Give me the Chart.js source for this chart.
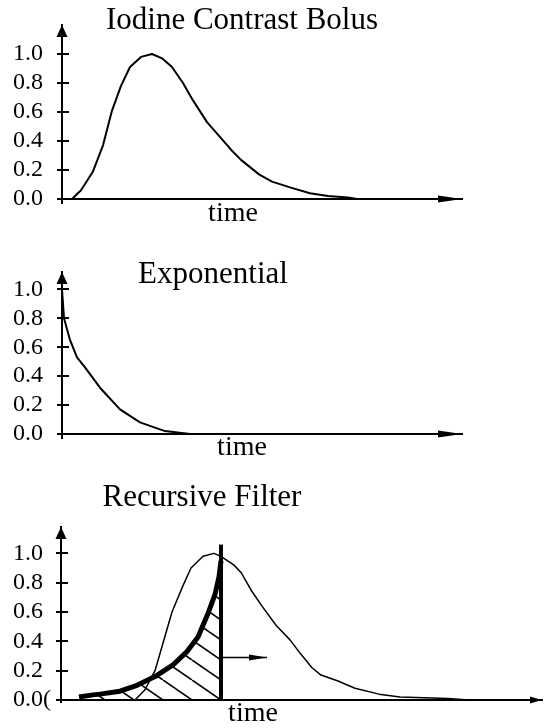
<!DOCTYPE html>
<html>
<head>
<meta charset="utf-8">
<script src="https://cdn.jsdelivr.net/npm/chart.js@4.4.0/dist/chart.umd.min.js"></script>
<style>
  body { margin: 0; background: #fff; width: 544px; height: 728px; position: relative; overflow: hidden; }
  canvas { position: absolute; left: 0; }
</style>
</head>
<body>
<canvas id="bolus" width="544" height="240" style="top:0"></canvas>
<canvas id="expo" width="544" height="230" style="top:240px"></canvas>
<canvas id="filter" width="544" height="258" style="top:470px"></canvas>
<script>
// values (time in arbitrary units)
const yTicks = [0, 0.2, 0.4, 0.6, 0.8, 1.0];

const bolusTime  = [1.0, 1.9, 3.1, 4.1, 5.0, 5.9, 6.8, 7.9, 9.0, 10.0, 11.0, 12.1, 13.1, 14.5, 15.9, 16.9, 17.9, 19.7, 21.0, 22.8, 24.8, 26.6, 28.6, 29.5];
const bolusValue = [0, 0.06, 0.19, 0.37, 0.61, 0.78, 0.91, 0.98, 1.0, 0.97, 0.91, 0.80, 0.68, 0.53, 0.42, 0.34, 0.27, 0.17, 0.12, 0.08, 0.04, 0.02, 0.01, 0];

const expTime  = [0, 0.2, 0.8, 1.5, 2.3, 3.8, 5.8, 7.8, 10.3, 12.8];
const expValue = [1.0, 0.8, 0.65, 0.53, 0.46, 0.32, 0.17, 0.08, 0.02, 0];

const shiftedTime  = [7.4, 8.4, 9.4, 11.1, 12.2, 13.0, 14.2, 15.3, 16.0, 17.3, 18.0, 19.1, 20.1, 21.5, 22.9, 23.9, 25.1, 26.0, 27.7, 29.4, 31.8, 33.9, 38.7, 40.8];
const shiftedValue = [0, 0.07, 0.2, 0.6, 0.78, 0.9, 0.98, 1.0, 0.98, 0.92, 0.87, 0.74, 0.64, 0.51, 0.41, 0.32, 0.22, 0.17, 0.13, 0.08, 0.04, 0.02, 0.01, 0];

const filterTime  = [1.8, 3.2, 3.9, 5.9, 7.6, 9.4, 11.2, 12.6, 13.7, 14.7, 15.4, 15.8, 16.0];
const filterValue = [0.02, 0.035, 0.04, 0.06, 0.10, 0.16, 0.24, 0.33, 0.43, 0.59, 0.72, 0.84, 0.95];

const cursorTime  = [16.0, 16.0];
const cursorValue = [0, 1.06];
const pointerTime  = [16.0, 20.6];
const pointerValue = [0.29, 0.29];

const serif = '"Liberation Serif", "Times New Roman", serif';
const pts = (t, v) => t.map((x, i) => ({ x, y: v[i] }));

function arrowHead(ctx, x, y, dx, dy, len, half) {
  const bx = x - dx * len, by = y - dy * len;
  ctx.beginPath();
  ctx.moveTo(x, y);
  ctx.lineTo(bx - dy * half, by + dx * half);
  ctx.lineTo(bx + dy * half, by - dx * half);
  ctx.closePath();
  ctx.fill();
}

function makeHatch() {
  const c = document.createElement('canvas');
  c.width = 29; c.height = 20;
  const g = c.getContext('2d');
  g.strokeStyle = '#000';
  g.lineWidth = 1.6;
  [-29, 0, 29].forEach(dx => {
    g.beginPath(); g.moveTo(dx, 0); g.lineTo(dx + 29, 20); g.stroke();
  });
  return g.createPattern(c, 'repeat');
}
const hatch = makeHatch();

const decor = {
  id: 'decor',
  beforeDatasetsDraw(chart, args, o) {
    if (o.hatchAt == null) return;
    const { x, y } = chart.scales;
    hatch.setTransform(new DOMMatrix().translate(x.getPixelForValue(o.hatchAt), y.getPixelForValue(0)));
  },
  afterDraw(chart, args, o) {
    const { ctx, chartArea: a, scales: { x, y } } = chart;
    ctx.save();
    ctx.strokeStyle = '#000';
    ctx.fillStyle = '#000';
    ctx.lineWidth = 2;
    yTicks.forEach(v => {
      const py = Math.round(y.getPixelForValue(v));
      ctx.beginPath(); ctx.moveTo(a.left - 5, py); ctx.lineTo(a.left + 7, py); ctx.stroke();
    });
    ctx.beginPath(); ctx.moveTo(a.left, a.bottom); ctx.lineTo(a.left, a.bottom + o.stub); ctx.stroke();
    arrowHead(ctx, a.left, a.top, 0, -1, 12, 5.5);
    arrowHead(ctx, a.right, a.bottom, 1, 0, o.xArrow, 3.5);
    if (o.pointer) {
      const px = x.getPixelForValue(pointerTime[1]);
      const py = y.getPixelForValue(pointerValue[1]);
      arrowHead(ctx, px, py, 1, 0, 18, 3);
    }
    ctx.textAlign = 'center';
    ctx.textBaseline = 'alphabetic';
    ctx.font = '31px ' + serif;
    ctx.fillText(o.title[0], o.title[1], o.title[2]);
    ctx.font = '28px ' + serif;
    ctx.fillText('time', o.label[0], o.label[1]);
    ctx.restore();
  }
};

function panel(id, o) {
  return new Chart(document.getElementById(id), {
    type: 'line',
    data: { datasets: o.datasets },
    plugins: [decor],
    options: {
      responsive: false,
      animation: false,
      devicePixelRatio: 1,
      layout: { padding: { top: o.top, left: 13, right: o.right, bottom: 0 } },
      plugins: { legend: { display: false }, tooltip: { enabled: false }, decor: o.decor },
      elements: {
        point: { radius: 0 },
        line: { tension: 0, borderColor: '#000', borderJoinStyle: 'round', fill: false }
      },
      scales: {
        x: {
          type: 'linear', min: 0, max: o.xMax,
          grid: { display: false, drawTicks: false },
          border: { color: '#000', width: 2 },
          ticks: { display: false },
          afterFit: s => { s.height = o.xHeight; }
        },
        y: {
          min: 0, max: o.yMax,
          grid: { display: false, drawTicks: false },
          border: { color: '#000', width: 2 },
          afterBuildTicks: s => { s.ticks = yTicks.map(v => ({ value: v })); },
          ticks: {
            crossAlign: 'far', padding: 0, color: '#000',
            font: { family: serif, size: 24 },
            callback: o.tickFmt || (v => v.toFixed(1))
          },
          afterFit: s => { s.width = o.yWidth; }
        }
      }
    }
  });
}

panel('bolus', {
  top: 25, right: 82, xHeight: 41, yWidth: 49, xMax: 40, yMax: 1.2,
  datasets: [{ data: pts(bolusTime, bolusValue), borderWidth: 2 }],
  decor: { stub: 5, xArrow: 24, title: ['Iodine Contrast Bolus', 242, 29], label: [233, 221] }
});

panel('expo', {
  top: 32, right: 82, xHeight: 36, yWidth: 49, xMax: 40, yMax: 1.12,
  datasets: [{ data: pts(expTime, expValue), borderWidth: 2 }],
  decor: { stub: 5, xArrow: 24, title: ['Exponential', 213, 43], label: [242, 215] }
});

panel('filter', {
  top: 57, right: 2, xHeight: 28, yWidth: 48, xMax: 48.1, yMax: 1.18,
  tickFmt: v => v === 0 ? '0.0(' : v.toFixed(1),
  datasets: [
    { data: pts(cursorTime, cursorValue), borderWidth: 4 },
    { data: pts(pointerTime, pointerValue), borderWidth: 1.5 },
    { data: pts(filterTime, filterValue), borderWidth: 5, fill: 'origin', backgroundColor: hatch },
    { data: pts(shiftedTime, shiftedValue), borderWidth: 1.5 }
  ],
  decor: { stub: 3, xArrow: 12, pointer: true, hatchAt: 16.0, title: ['Recursive Filter', 202, 36], label: [253, 251] }
});
</script>
</body>
</html>
